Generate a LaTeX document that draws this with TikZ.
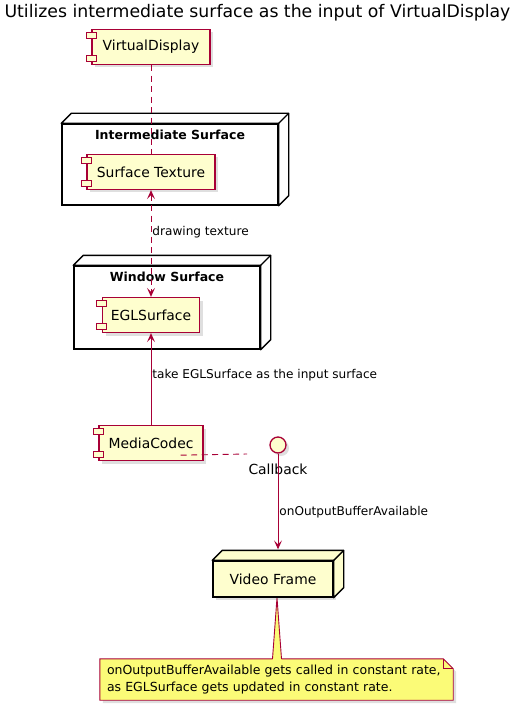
\documentclass[tikz,border=0pt]{standalone}
\usepackage{fontspec}
\setmainfont{DejaVu Sans}
\usetikzlibrary{
  arrows.meta,
  backgrounds,
  calc,
  positioning,
  shadows
}
\definecolor{umlFill}{HTML}{FEFECE}
\definecolor{umlLine}{HTML}{A80036}
\definecolor{umlNote}{HTML}{FBFB77}

\begin{document}
\begin{tikzpicture}[x=1pt,y=1pt,
  comp/.style={draw=umlLine, line width=1.3pt, fill=umlFill, inner sep=0pt,
    minimum height=35pt, font=\fontsize{13.9}{16}\selectfont,
    drop shadow={shadow xshift=3pt, shadow yshift=-3pt, opacity=0.25}},
  port/.style={draw=umlLine, line width=1.1pt, fill=umlFill},
  frontface/.style={draw=black, line width=1.4pt, fill=white, inner sep=0pt},
  boxtitle/.style={anchor=north, yshift=-3pt, font=\bfseries\fontsize{12.5}{15}\selectfont},
  lbl/.style={anchor=west, inner sep=1pt, font=\fontsize{12.1}{14}\selectfont},
  link/.style={draw=umlLine, line width=0.9pt},
  dashlink/.style={link, dash pattern=on 6pt off 4.5pt},
  tipend/.style={-{Stealth[length=9pt, width=8pt, inset=4pt]}},
  tipboth/.style={{Stealth[length=9pt, width=8pt, inset=4pt]}-{Stealth[length=9pt, width=8pt, inset=4pt]}}]
  \useasboundingbox (0,0) rectangle (520,-711);

  \node[anchor=west, font=\fontsize{17.3}{20}\selectfont] (title) at (1,-13)
    {Utilizes intermediate surface as the input of VirtualDisplay};

  \node[frontface, minimum width=216pt, minimum height=81pt,
    label={[boxtitle]north:Intermediate Surface}] (is) at (170,-164.5) {};
  \node[frontface, minimum width=186pt, minimum height=83pt,
    label={[boxtitle]north:Window Surface}] (ws) at (167,-307.5) {};
  \node[frontface, fill=umlFill, minimum width=120pt, minimum height=36pt,
    font=\fontsize{13.9}{16}\selectfont,
    drop shadow={shadow xshift=3pt, shadow yshift=-3pt, opacity=0.25}] (vf) at (273,-579) {Video Frame};

  \foreach \n/\c in {is/white, ws/white, vf/umlFill} {
    \filldraw[draw=black, line width=1.4pt, fill=\c, line join=round]
      (\n.north west) -- ++(10,10) -- ($(\n.north east)+(10,10)$)
      -- ($(\n.south east)+(10,10)$) -- (\n.south east) -- (\n.north east) -- cycle;
    \draw[black, line width=1.4pt] (\n.north east) -- ++(10,10);
  }

  \node[comp, minimum width=118pt] (vd) at (151,-47) {VirtualDisplay};
  \node[comp, minimum width=128pt] (st) at (151,-172) {Surface Texture};
  \node[comp, minimum width=97pt] (egl) at (151,-315) {EGLSurface};
  \node[comp, minimum width=104pt] (mc) at (151,-443) {MediaCodec};

  \foreach \n in {vd,st,egl,mc} {
    \filldraw[port] ($(\n.north west)+(-5,-4)$) rectangle ++(10,-6);
    \filldraw[port] ($(\n.south west)+(-5,4)$) rectangle ++(10,6);
  }

  \node[circle, draw=umlLine, line width=1.3pt, fill=umlFill, minimum size=16pt,
    inner sep=0pt, drop shadow={shadow xshift=3pt, shadow yshift=-3pt, opacity=0.25}]
    (cb) at (278,-445) {};
  \node[below=7pt of cb, font=\fontsize{13.9}{16}\selectfont] (cblbl) {Callback};

  \node[minimum height=41pt, inner xsep=7pt, inner ysep=0pt, text width=339pt,
    align=left, font=\fontsize{12.5}{17}\selectfont] (nt) at (276.5,-679.5)
    {onOutputBufferAvailable gets called in constant rate,\\as EGLSurface gets updated in constant rate.};
  \begin{scope}[on background layer]
    \filldraw[draw=umlLine, line width=0.9pt, fill=umlNote,
      drop shadow={shadow xshift=3pt, shadow yshift=-3pt, opacity=0.25}]
      (nt.north west) -- ($(nt.north east)+(-10,0)$) -- ($(nt.north east)+(0,-10)$)
      -- (nt.south east) -- (nt.south west) -- cycle;
    \draw[umlLine, line width=0.9pt] ($(nt.north east)+(-10,0)$) -- ++(0,-10) -- ++(10,0);
    \coordinate (vfnote) at ($(vf.south)+(4,0)$);
    \fill[umlNote] (vfnote) -- ($(nt.north)+(-4,-1)$) -- ($(nt.north)+(5,-1)$) -- cycle;
    \draw[umlLine, line width=0.9pt] ($(nt.north)+(-4,0)$) -- (vfnote) -- ($(nt.north)+(5,0)$);
  \end{scope}

  \coordinate (vftop) at ($(vf.north)+(5,11)$);
  \coordinate (mcdash) at ($(mc.south east)+(-23,6)$);
  \coordinate (cbdash) at ($(cb)+(-31,-9)$);

  \draw[dashlink] (vd) -- (st);
  \draw[dashlink, tipboth] (st) -- (egl)
    node[lbl, pos=0.39] {drawing texture};
  \draw[link, tipend] (mc) -- (egl)
    node[lbl, pos=0.54] {take EGLSurface as the input surface};
  \draw[dashlink] (mcdash) -- (cbdash);
  \draw[link, tipend] (cb) -- (vftop)
    node[lbl, pos=0.61] {onOutputBufferAvailable};
\end{tikzpicture}
\end{document}
